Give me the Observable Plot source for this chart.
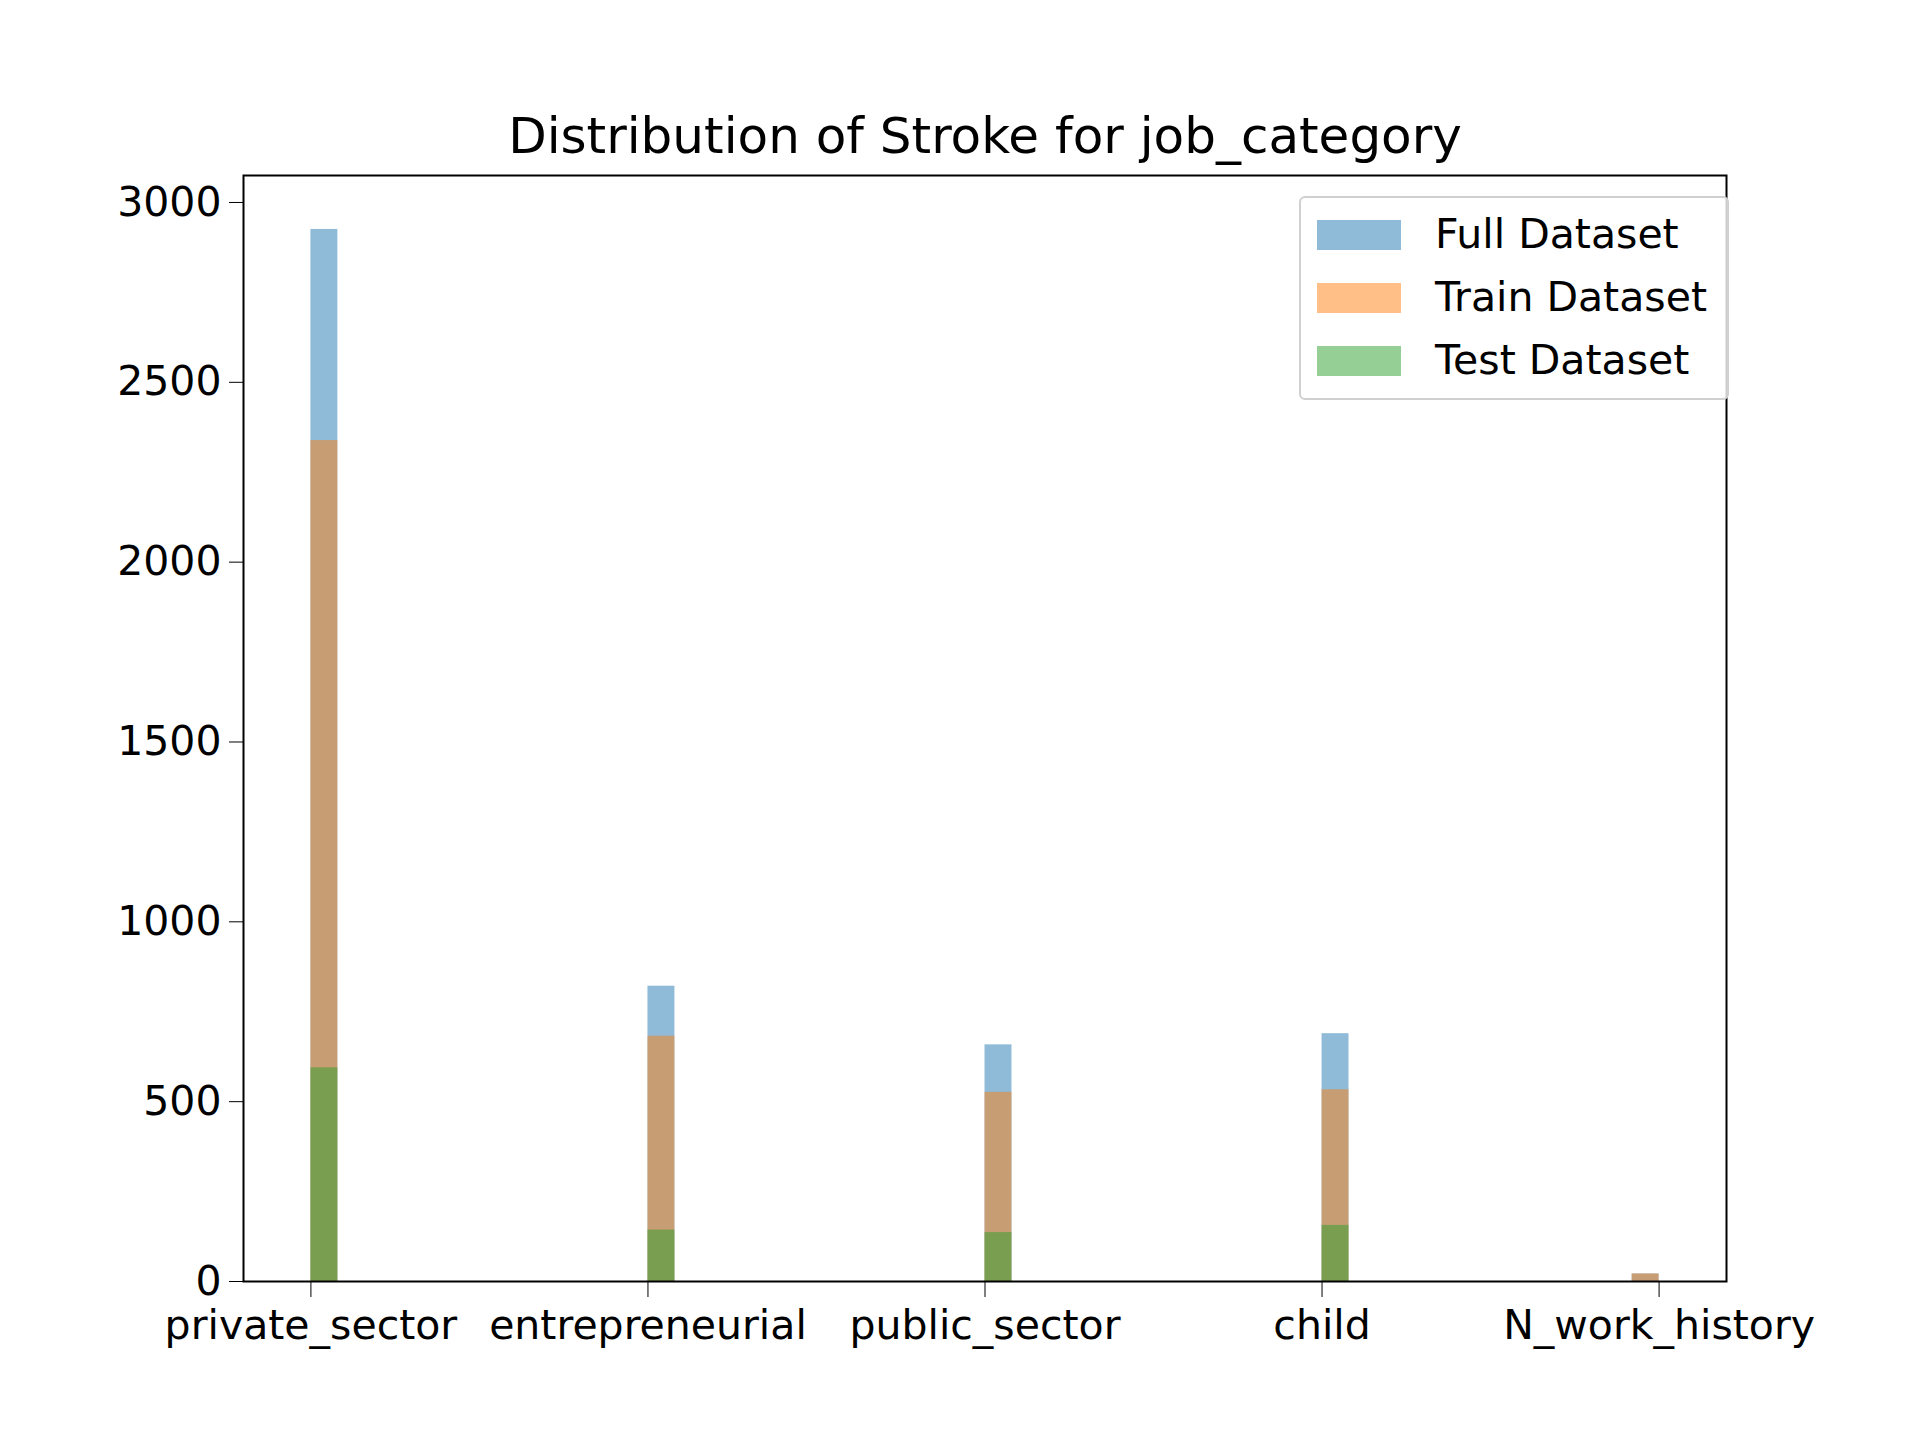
<!DOCTYPE html>
<html>
<head>
<meta charset="utf-8">
<script src="https://cdn.jsdelivr.net/npm/d3@7"></script>
<script src="https://cdn.jsdelivr.net/npm/@observablehq/plot@0.6"></script>
<style>
  body { margin: 0; background: white; }
  #wrap { position: relative; width: 1920px; height: 1440px; font-family: "DejaVu Sans", sans-serif; }
  #legend { position: absolute; left: 1299px; top: 196px; width: 430px; height: 204px;
    border: 2px solid #d0d0d0; border-radius: 6px; background: rgba(255,255,255,0.8); box-sizing: border-box; }
  .item { position: absolute; left: 16px; font-size: 41px; height: 44px; line-height: 44px; }
  .sw { position: absolute; left: 0; top: 8px; width: 84px; height: 30px; }
  .lbl { position: absolute; left: 118px; white-space: nowrap; }
</style>
</head>
<body>
<div id="wrap"><div id="legend"></div></div>
<script>
// categories and counts
const categories = ["private_sector", "entrepreneurial", "public_sector", "child", "N_work_history"];
const fullCounts  = [2925, 821, 658, 689, 21];
const trainCounts = [2338, 682, 526, 533, 21];
const testCounts  = [594, 143, 136, 156, 0];
const seriesNames = ["Full Dataset", "Train Dataset", "Test Dataset"];
const colors = ["#1f77b4", "#ff7f0e", "#2ca02c"];
const yTicks = [0, 500, 1000, 1500, 2000, 2500, 3000];

const bw = 4 / 50; // histogram bin width (50 bins over 0..4)
// last category sits at the right edge of the range, so its bin ends at the tick
const binStart = i => i === 4 ? 4 - bw : i;

const rows = [];
[fullCounts, trainCounts, testCounts].forEach((vals, s) => {
  vals.forEach((v, i) => rows.push({s, x1: binStart(i), x2: binStart(i) + bw, y: v}));
});

const plot = Plot.plot({
  width: 1920,
  height: 1440,
  marginLeft: 243,
  marginRight: 169 + 25,
  marginTop: 175,
  marginBottom: 140 + 19,
  style: {fontFamily: "DejaVu Sans", fontSize: "41px", color: "black", background: "white"},
  x: {domain: [-0.2, 4.2], ticks: [0, 1, 2, 3, 4], tickFormat: i => categories[i], tickSize: 16, tickPadding: 12, label: null},
  y: {domain: [0, 3075], ticks: yTicks, tickFormat: d => String(d), tickSize: 14, tickPadding: 8, label: null},
  marks: [
    Plot.rect(rows, {x1: "x1", x2: "x2", y1: 0, y2: "y", fill: d => colors[d.s], fillOpacity: 0.5}),
    Plot.frame({stroke: "black", strokeWidth: 2}),
    Plot.text(["Distribution of Stroke for job_category"], {frameAnchor: "top", dy: -58, fontSize: 50, fill: "black"})
  ]
});
document.getElementById("wrap").prepend(plot);

const leg = document.getElementById("legend");
seriesNames.forEach((n, i) => {
  const d = document.createElement("div");
  d.className = "item";
  d.style.top = (14 + i * 63) + "px";
  d.innerHTML = `<div class="sw" style="background:${colors[i]};opacity:0.5"></div><div class="lbl">${n}</div>`;
  leg.appendChild(d);
});
</script>
</body>
</html>
